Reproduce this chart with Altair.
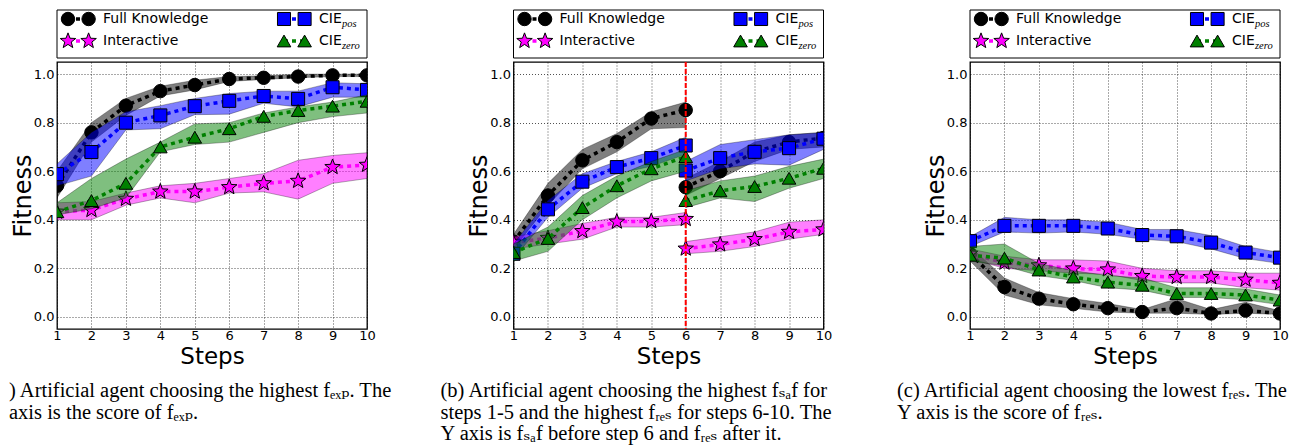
import math
import altair as alt
import pandas as pd

# ---------------- data ----------------
STEPS = list(range(1, 11))
PRE = list(range(1, 7))
POST = list(range(6, 11))

SERIES = ["Full Knowledge", "Interactive", "CIE_pos", "CIE_zero"]
COLORS = {"Full Knowledge": "#000000", "Interactive": "#ff00ff",
          "CIE_pos": "#0000ff", "CIE_zero": "#008000"}

# Panel (a)
A_FK_MEAN = [0.54, 0.76, 0.87, 0.93, 0.955, 0.98, 0.985, 0.99, 0.995, 0.995]
A_FK_LO = [0.49, 0.72, 0.83, 0.91, 0.935, 0.97, 0.978, 0.985, 0.99, 0.99]
A_FK_HI = [0.60, 0.80, 0.90, 0.95, 0.975, 0.99, 0.993, 1.0, 1.0, 1.0]
A_IN_MEAN = [0.433, 0.44, 0.486, 0.516, 0.516, 0.534, 0.55, 0.56, 0.617, 0.626]
A_IN_LO = [0.40, 0.40, 0.46, 0.49, 0.47, 0.51, 0.515, 0.485, 0.55, 0.57]
A_IN_HI = [0.47, 0.475, 0.51, 0.54, 0.55, 0.57, 0.59, 0.645, 0.665, 0.676]
A_PO_MEAN = [0.588, 0.679, 0.80, 0.83, 0.868, 0.89, 0.91, 0.898, 0.946, 0.935]
A_PO_LO = [0.54, 0.58, 0.77, 0.775, 0.833, 0.835, 0.88, 0.865, 0.905, 0.905]
A_PO_HI = [0.63, 0.76, 0.845, 0.87, 0.90, 0.92, 0.93, 0.93, 0.965, 0.96]
A_ZE_MEAN = [0.433, 0.479, 0.55, 0.70, 0.74, 0.775, 0.826, 0.85, 0.868, 0.888]
A_ZE_LO = [0.42, 0.445, 0.49, 0.68, 0.71, 0.72, 0.76, 0.80, 0.825, 0.84]
A_ZE_HI = [0.47, 0.57, 0.65, 0.72, 0.795, 0.80, 0.84, 0.865, 0.885, 0.915]

# Panel (b): steps 1-6 (before switch) and 6-10 (after switch)
B_FK_PRE_MEAN = [0.31, 0.50, 0.645, 0.72, 0.817, 0.852]
B_FK_PRE_LO = [0.28, 0.46, 0.61, 0.68, 0.775, 0.78]
B_FK_PRE_HI = [0.34, 0.55, 0.69, 0.755, 0.845, 0.885]
B_FK_POST_MEAN = [0.534, 0.60, 0.68, 0.72, 0.737]
B_FK_POST_LO = [0.50, 0.57, 0.64, 0.69, 0.70]
B_FK_POST_HI = [0.57, 0.64, 0.72, 0.75, 0.76]
B_IN_PRE_MEAN = [0.306, 0.325, 0.353, 0.392, 0.394, 0.403]
B_IN_PRE_LO = [0.28, 0.30, 0.32, 0.37, 0.37, 0.38]
B_IN_PRE_HI = [0.33, 0.355, 0.385, 0.41, 0.41, 0.43]
B_IN_POST_MEAN = [0.281, 0.298, 0.32, 0.35, 0.36]
B_IN_POST_LO = [0.26, 0.27, 0.29, 0.32, 0.34]
B_IN_POST_HI = [0.31, 0.33, 0.35, 0.39, 0.40]
B_PO_PRE_MEAN = [0.26, 0.443, 0.557, 0.617, 0.654, 0.706]
B_PO_PRE_LO = [0.24, 0.41, 0.53, 0.59, 0.62, 0.67]
B_PO_PRE_HI = [0.30, 0.48, 0.59, 0.64, 0.68, 0.74]
B_PO_POST_MEAN = [0.603, 0.654, 0.68, 0.695, 0.734]
B_PO_POST_LO = [0.56, 0.61, 0.63, 0.625, 0.69]
B_PO_POST_HI = [0.64, 0.71, 0.73, 0.75, 0.76]
B_ZE_PRE_MEAN = [0.265, 0.323, 0.45, 0.54, 0.61, 0.66]
B_ZE_PRE_LO = [0.23, 0.27, 0.40, 0.49, 0.56, 0.60]
B_ZE_PRE_HI = [0.30, 0.37, 0.50, 0.58, 0.64, 0.69]
B_ZE_POST_MEAN = [0.479, 0.519, 0.537, 0.571, 0.612]
B_ZE_POST_LO = [0.45, 0.49, 0.475, 0.53, 0.57]
B_ZE_POST_HI = [0.52, 0.56, 0.58, 0.62, 0.65]
B_SWITCH = [6]

# Panel (c)
C_FK_MEAN = [0.26, 0.123, 0.075, 0.052, 0.036, 0.02, 0.036, 0.014, 0.026, 0.014]
C_FK_LO = [0.23, 0.09, 0.05, 0.035, 0.02, 0.015, 0.015, 0.01, 0.015, 0.01]
C_FK_HI = [0.29, 0.16, 0.10, 0.075, 0.055, 0.03, 0.075, 0.03, 0.06, 0.025]
C_IN_MEAN = [0.26, 0.223, 0.212, 0.199, 0.195, 0.168, 0.164, 0.164, 0.153, 0.14]
C_IN_LO = [0.24, 0.20, 0.19, 0.18, 0.175, 0.15, 0.14, 0.14, 0.12, 0.11]
C_IN_HI = [0.28, 0.25, 0.235, 0.235, 0.23, 0.20, 0.19, 0.19, 0.18, 0.18]
C_PO_MEAN = [0.312, 0.375, 0.375, 0.375, 0.364, 0.337, 0.332, 0.306, 0.265, 0.244]
C_PO_LO = [0.29, 0.35, 0.345, 0.35, 0.34, 0.32, 0.31, 0.28, 0.24, 0.22]
C_PO_HI = [0.33, 0.41, 0.40, 0.40, 0.39, 0.36, 0.36, 0.335, 0.29, 0.265]
C_ZE_MEAN = [0.254, 0.242, 0.193, 0.164, 0.143, 0.13, 0.096, 0.096, 0.09, 0.069]
C_ZE_LO = [0.23, 0.21, 0.17, 0.15, 0.12, 0.11, 0.08, 0.08, 0.07, 0.05]
C_ZE_HI = [0.29, 0.30, 0.22, 0.19, 0.17, 0.16, 0.12, 0.12, 0.115, 0.09]

Y_TICKS = [0.0, 0.2, 0.4, 0.6, 0.8, 1.0]

CAPTIONS = {
    "a": [") Artificial agent choosing the highest fₑₓₚ. The",
          " axis is the score of fₑₓₚ."],
    "b": ["(b) Artificial agent choosing the highest fₛₐf for",
          "steps 1-5 and the highest fᵣₑₛ for steps 6-10. The",
          "Y axis is fₛₐf before step 6 and fᵣₑₛ after it."],
    "c": ["(c) Artificial agent choosing the lowest fᵣₑₛ. The",
          "Y axis is the score of fᵣₑₛ."],
}

LEGEND_LABELS = ["Full Knowledge", "Interactive", "CIE", "CIE"]
LEGEND_SUBS = ["", "", "pos", "zero"]
LEGEND_COL = [0, 0, 1, 1]
LEGEND_ROW = [0, 1, 0, 1]


def star_path(n=5, inner=0.42):
    pts = []
    for k in range(2 * n):
        r = 1.0 if k % 2 == 0 else inner
        a = -math.pi / 2 + k * math.pi / n
        pts.append(f"{r * math.cos(a):.3f},{r * math.sin(a):.3f}")
    return "M" + " L".join(pts) + " Z"


SHAPES = {"Full Knowledge": "circle", "Interactive": star_path(),
          "CIE_pos": "square", "CIE_zero": "triangle-up"}
SIZES = {"Full Knowledge": 180, "Interactive": 265, "CIE_pos": 170, "CIE_zero": 185}

rows = []


def add(panel, series, steps, mean, lo, hi, seg="all"):
    for s, m, l, h in zip(steps, mean, lo, hi):
        rows.append(dict(panel=panel, series=series, step=s, mean=m, lo=l, hi=h, seg=seg))


add("a", "Full Knowledge", STEPS, A_FK_MEAN, A_FK_LO, A_FK_HI)
add("a", "Interactive", STEPS, A_IN_MEAN, A_IN_LO, A_IN_HI)
add("a", "CIE_pos", STEPS, A_PO_MEAN, A_PO_LO, A_PO_HI)
add("a", "CIE_zero", STEPS, A_ZE_MEAN, A_ZE_LO, A_ZE_HI)
add("b", "Full Knowledge", PRE, B_FK_PRE_MEAN, B_FK_PRE_LO, B_FK_PRE_HI, "pre")
add("b", "Full Knowledge", POST, B_FK_POST_MEAN, B_FK_POST_LO, B_FK_POST_HI, "post")
add("b", "Interactive", PRE, B_IN_PRE_MEAN, B_IN_PRE_LO, B_IN_PRE_HI, "pre")
add("b", "Interactive", POST, B_IN_POST_MEAN, B_IN_POST_LO, B_IN_POST_HI, "post")
add("b", "CIE_pos", PRE, B_PO_PRE_MEAN, B_PO_PRE_LO, B_PO_PRE_HI, "pre")
add("b", "CIE_pos", POST, B_PO_POST_MEAN, B_PO_POST_LO, B_PO_POST_HI, "post")
add("b", "CIE_zero", PRE, B_ZE_PRE_MEAN, B_ZE_PRE_LO, B_ZE_PRE_HI, "pre")
add("b", "CIE_zero", POST, B_ZE_POST_MEAN, B_ZE_POST_LO, B_ZE_POST_HI, "post")
add("c", "Full Knowledge", STEPS, C_FK_MEAN, C_FK_LO, C_FK_HI)
add("c", "Interactive", STEPS, C_IN_MEAN, C_IN_LO, C_IN_HI)
add("c", "CIE_pos", STEPS, C_PO_MEAN, C_PO_LO, C_PO_HI)
add("c", "CIE_zero", STEPS, C_ZE_MEAN, C_ZE_LO, C_ZE_HI)

DF = pd.DataFrame(rows)

W = 310
H = 267

X_SCALE = alt.Scale(domain=[1, 10], nice=False, zero=False)
Y_SCALE = alt.Scale(domain=[-0.05, 1.05], nice=False, zero=False)
X_AXIS = alt.Axis(values=STEPS, format="d", title="Steps", labelFlush=False,
                  labelPadding=0, titlePadding=3, titleFontSize=23, grid=True)
Y_AXIS = alt.Axis(values=Y_TICKS, format=".1f", title="Fitness",
                  labelPadding=3, titlePadding=-2, grid=True)

SERIF = "Liberation Serif, DejaVu Serif, serif"
LEG_TOP = -52
LEG_BOTTOM = -4


def legend_layer():
    ldf = pd.DataFrame({"label": LEGEND_LABELS, "sub": LEGEND_SUBS,
                        "col": LEGEND_COL, "row": LEGEND_ROW,
                        "series": SERIES})
    lx = alt.X("col:Q", scale=alt.Scale(domain=[0, 1], range=[11, 227]), axis=None)
    ly = alt.Y("row:Q", scale=alt.Scale(domain=[0, 1], range=[-43, -21]), axis=None)
    base = alt.Chart(ldf)
    layers = [alt.Chart(pd.DataFrame({"k": [0]}))
              .mark_rect(fill="white", fillOpacity=0, stroke="black", strokeWidth=1)
              .encode(x=alt.value(0), x2=alt.value(W),
                      y=alt.value(LEG_TOP), y2=alt.value(LEG_BOTTOM))]
    for s in SERIES:
        d = base.transform_filter(alt.datum.series == s)
        layers.append(d.mark_rule(strokeWidth=3.5, strokeDash=[4, 4], color=COLORS[s],
                                  xOffset=0, x2Offset=20.6)
                      .encode(x=lx, x2="col:Q", y=ly))
        for off in (0, 20.6):
            layers.append(d.mark_point(filled=True, color=COLORS[s], stroke="black",
                                       strokeWidth=1, opacity=1, size=SIZES[s],
                                       shape=SHAPES[s], xOffset=off)
                          .encode(x=lx, y=ly))
    layers.append(base.mark_text(align="left", baseline="middle", dx=35, fontSize=14,
                                 font="DejaVu Sans", color="black")
                  .encode(x=lx, y=ly, text="label:N"))
    layers.append(base.mark_text(align="left", baseline="middle", dx=58, dy=5,
                                 fontSize=10.5, fontStyle="italic", font=SERIF,
                                 color="black")
                  .encode(x=lx, y=ly, text="sub:N"))
    return alt.layer(*layers)


def panel_chart(key, cap_x, split=False):
    d0 = alt.Chart(DF).transform_filter(alt.datum.panel == key)
    x = alt.X("step:Q", scale=X_SCALE, axis=X_AXIS)
    layers = []
    for s in SERIES:
        d = d0.transform_filter(alt.datum.series == s)
        c = COLORS[s]
        layers.append(d.mark_area(fill=c, fillOpacity=0.5, stroke="black",
                                  strokeOpacity=0.3, strokeWidth=1, clip=True)
                      .encode(x=x, y=alt.Y("lo:Q", scale=Y_SCALE, axis=Y_AXIS),
                              y2="hi:Q", detail="seg:N"))
        layers.append(d.mark_line(color=c, strokeWidth=3.5, strokeDash=[4, 4], clip=True)
                      .encode(x=x, y=alt.Y("mean:Q", scale=Y_SCALE, axis=Y_AXIS),
                              detail="seg:N"))
        layers.append(d.mark_point(filled=True, color=c, stroke="black", strokeWidth=1,
                                   opacity=1, size=SIZES[s], shape=SHAPES[s], clip=True)
                      .encode(x=x, y=alt.Y("mean:Q", scale=Y_SCALE, axis=Y_AXIS)))
    if split:
        layers.append(alt.Chart(pd.DataFrame({"step": B_SWITCH}))
                      .mark_rule(color="#ff0000", strokeWidth=2, strokeDash=[5, 2])
                      .encode(x=alt.X("step:Q", scale=X_SCALE, axis=X_AXIS)))
    layers.append(alt.Chart(pd.DataFrame({"k": [0]}))
                  .mark_text(text=CAPTIONS[key], align="left", baseline="alphabetic",
                             font=SERIF, fontSize=20.5, lineHeight=21.5, color="black")
                  .encode(x=alt.value(cap_x), y=alt.value(335)))
    main = alt.layer(*layers)
    return (alt.layer(main, legend_layer())
            .resolve_scale(x="independent", y="independent")
            .properties(width=W, height=H))


panels = [panel_chart("a", -48), panel_chart("b", -73, split=True), panel_chart("c", -73)]

chart = alt.hconcat(*panels, spacing=146.5, bounds="flush", padding=0).configure_view(
    stroke="black", strokeWidth=1.3
).configure_axis(
    gridColor="black", gridDash=[1, 2], gridWidth=0.8, gridOpacity=0.85,
    domain=False, ticks=False,
    labelFont="DejaVu Sans", labelFontSize=13, labelColor="black",
    titleFont="DejaVu Sans", titleFontSize=24, titleFontWeight="normal",
    titleColor="black"
)

chart.save("out.html", embed_options={"renderer": "svg", "actions": False})
